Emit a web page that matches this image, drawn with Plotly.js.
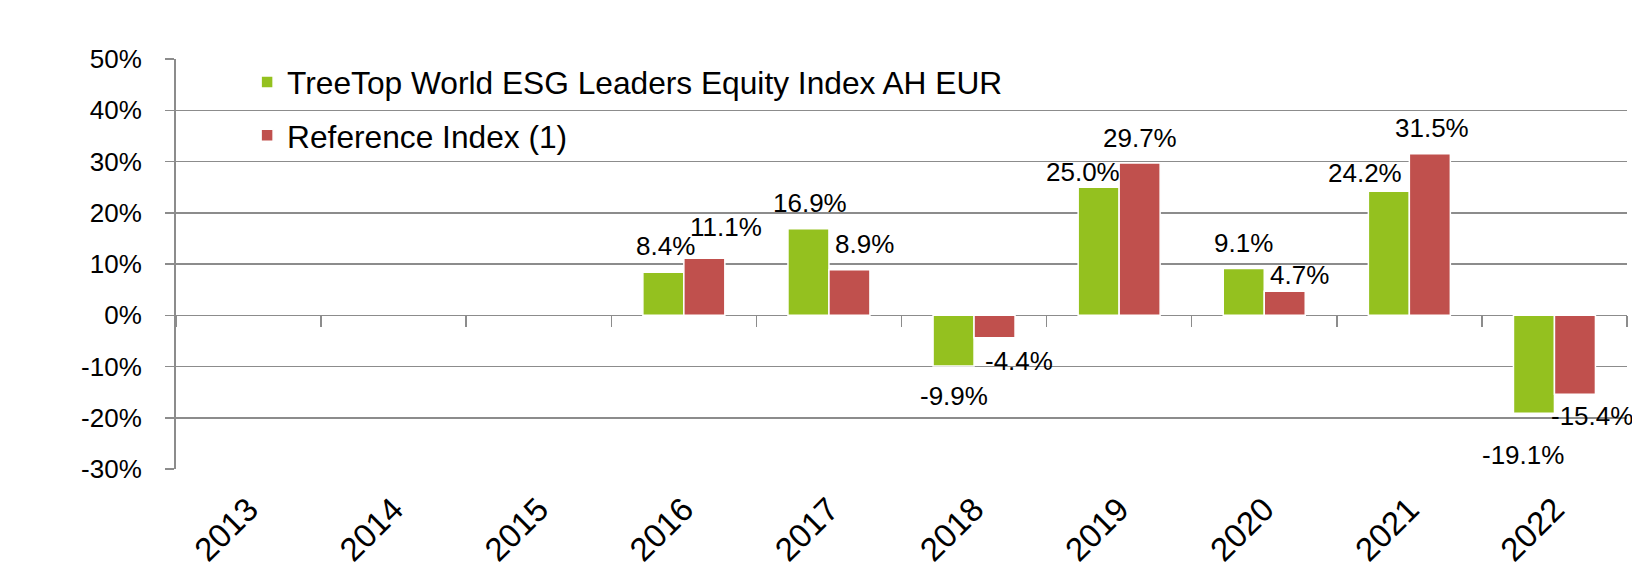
<!DOCTYPE html>
<html>
<head>
<meta charset="utf-8">
<script src="https://cdn.plot.ly/plotly-3.0.1.min.js"></script>
<style>
html,body{margin:0;padding:0;background:#fff;}
#chart{width:1632px;height:565px;}
</style>
</head>
<body>
<div id="chart"></div>
<script>
// ---- data ----
var years = ['2013','2014','2015','2016','2017','2018','2019','2020','2021','2022'];
var fundName = 'TreeTop World ESG Leaders Equity Index AH EUR';
var refName = 'Reference Index (1)';
var fundReturns = [null, null, null, 8.4, 16.9, -9.9, 25.0, 9.1, 24.2, -19.1];
var refReturns  = [null, null, null, 11.1, 8.9, -4.4, 29.7, 4.7, 31.5, -15.4];
var yTickVals = [-30, -20, -10, 0, 10, 20, 30, 40, 50];

// ---- label placement (pixel offsets, styling only) ----
var fundLabelDx = [0, 0, 0, 2, 1, 0, -16, 0, -24, -11];
var fundLabelDy = [0, 0, 0, 26, 26, -30, 15, 26, 18, -42];
var refLabelDx  = [0, 0, 0, 22, 15, 25, 1, 15, 2, 17];
var refLabelDy  = [0, 0, 0, 31, 26, -23, 25, 16, 26, -22];

var GREEN = '#94C11F';
var RED = '#C0504D';
var GRID = '#8c8c8c';
var FONT = 'Liberation Sans, Arial, sans-serif';
var barHalf = 20.3; // half of a bar width in px, to centre labels on each bar

var traces = [
  {type:'bar', x:years, y:fundReturns, name:fundName, legendgroup:'a',
   marker:{color:GREEN, line:{color:'#ffffff', width:1.5}}, hoverinfo:'x+y'},
  {type:'bar', x:years, y:refReturns, name:refName, legendgroup:'b',
   marker:{color:RED, line:{color:'#ffffff', width:1.5}}, hoverinfo:'x+y'}
];

function fmt(v){ return v.toFixed(1) + '%'; }
var annotations = [];
function addLabels(vals, dx, dy, side){
  for (var i = 0; i < years.length; i++){
    if (vals[i] === null) continue;
    annotations.push({
      // category slot centre along the plot width; value on the y scale
      x: (i + 0.5) / years.length, xref:'paper',
      y: vals[i], yref:'y',
      text: fmt(vals[i]), showarrow:false,
      xanchor:'center', yanchor:'middle',
      xshift: side*barHalf + dx[i], yshift: dy[i],
      font:{family:FONT, size:26, color:'#000'}
    });
  }
}
addLabels(fundReturns, fundLabelDx, fundLabelDy, -1);
addLabels(refReturns, refLabelDx, refLabelDy, 1);

var layout = {
  width:1632, height:565,
  margin:{l:176, r:5, t:59, b:96},
  paper_bgcolor:'#ffffff', plot_bgcolor:'#ffffff',
  font:{family:FONT, color:'#000'},
  barmode:'group', bargap:0.435, bargroupgap:0,
  showlegend:true,
  legend:{x:0.049, y:1.01, xanchor:'left', yanchor:'top',
    bgcolor:'rgba(0,0,0,0)', font:{family:FONT, size:31.7, color:'#000'},
    traceorder:'grouped', tracegroupgap:9, itemclick:false},
  xaxis:{type:'category', categoryorder:'array', categoryarray:years,
    range:[-0.5, 9.5], anchor:'free', position:0.375,
    tickson:'boundaries', ticks:'outside', ticklen:11, tickwidth:1.5, tickcolor:GRID,
    showgrid:false, zeroline:false, showline:false,
    tickangle:-45, ticklabelstandoff:167,
    tickfont:{family:FONT, size:33, color:'#000'}},
  yaxis:{range:[-30, 50], tickvals:yTickVals,
    ticktext:yTickVals.map(function(v){return v + '%';}),
    showgrid:true, gridcolor:GRID, gridwidth:1.5,
    zeroline:true, zerolinecolor:GRID, zerolinewidth:1.5,
    showline:true, linecolor:GRID, linewidth:2,
    ticks:'outside', ticklen:9, tickwidth:1.5, tickcolor:GRID,
    ticklabelstandoff:18,
    tickfont:{family:FONT, size:26, color:'#000'}},
  annotations:annotations
};

Plotly.newPlot('chart', traces, layout, {staticPlot:true, displayModeBar:false});
</script>
</body>
</html>
